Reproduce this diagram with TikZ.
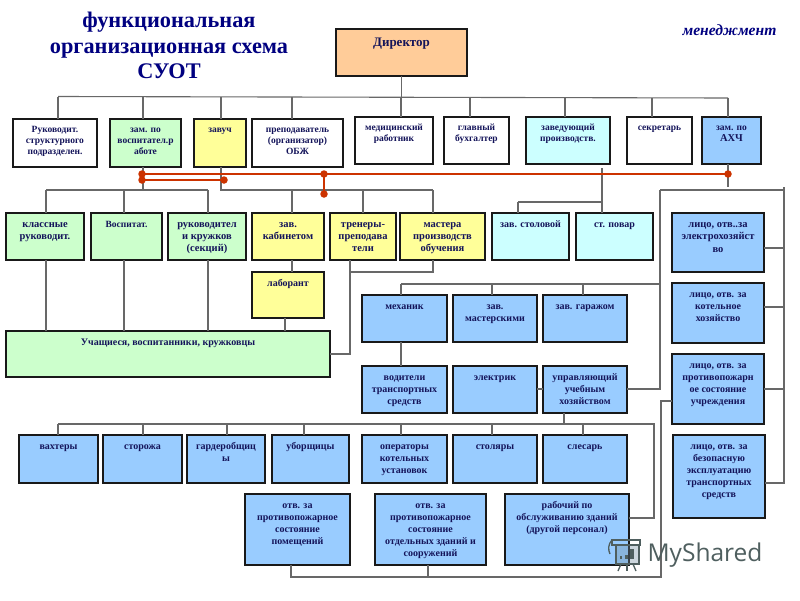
\documentclass[tikz,border=0pt]{standalone}
\usepackage{fontspec}
\setmainfont{Liberation Serif}
\newfontfamily\wmfont{Open Sans}
\definecolor{navyt}{HTML}{000080}
\definecolor{boxt}{HTML}{14145A}
\definecolor{peach}{HTML}{FFCC99}
\definecolor{mint}{HTML}{CCFFCC}
\definecolor{lemon}{HTML}{FFFF99}
\definecolor{aqua}{HTML}{CCFFFF}
\definecolor{sky}{HTML}{99CCFF}
\definecolor{rust}{HTML}{CC3300}
\definecolor{wire}{HTML}{686868}
\definecolor{wm}{HTML}{4F5F5F}
\tikzset{
  boxst/.style={draw=black!90,line width=1.5pt,inner sep=0pt,outer sep=0pt,anchor=center,align=center},
  link/.style={draw=wire,line width=1.1pt},
  redline/.style={draw=rust,line width=2.4pt},
  reddot/.style={circle,fill=rust,minimum size=7.5pt,inner sep=0pt},
  titlest/.style={font=\bfseries\fontsize{22.3}{25.8}\selectfont,text=navyt,align=center},
  logost/.style={draw=wm,line width=1.3pt},
}
\newcommand{\bxtop}{13.5}
\newcommand{\bxfac}{1.17}
% #1 name, #2 x1, #3 y1, #4 x2, #5 y2, #6 fill, #7 font size, #8 text
\newcommand{\bx}[8]{%
  \pgfmathsetmacro{\bxw}{#4-#2}\pgfmathsetmacro{\bxh}{#5-#3}%
  \pgfmathsetmacro{\bxcx}{(#2+#4)/2}\pgfmathsetmacro{\bxcy}{(#3+#5)/2}%
  \pgfmathsetmacro{\bxlead}{#7*\bxfac}%
  \node[boxst,fill=#6] (#1) at (\bxcx,\bxcy)
    {\parbox[c][\bxh pt][t]{\bxw pt}{\centering\color{boxt}\bfseries\fontsize{#7}{\bxlead}\selectfont\rule{0pt}{\bxtop pt}#8\par}};%
}
% bus coordinate, then a drop onto the top of a node
\newcommand{\dropon}[4]{\coordinate (#1) at (#2,#3); \draw[link] (#1) -- (#1 |- #4.north);}
\begin{document}
\begin{tikzpicture}[x=1pt,y=-1pt]
\useasboundingbox (0,0) rectangle (800,600);
\fill[white] (0,0) rectangle (800,600);

\node[titlest] (title) at (169,45.5) {функциональная\\организационная схема\\СУОТ};
\node[font=\bfseries\itshape\fontsize{15.6}{18}\selectfont,text=navyt] (mgmt) at (729.5,30.5) {менеджмент};

% row 1
\renewcommand{\bxtop}{17}
\bx{dir}{336}{29}{467}{76}{peach}{13}{Директор}
\renewcommand{\bxtop}{13.5}
\bx{ruk}{13}{119}{97}{167}{white}{9.5}{Руководит.\\структурного\\подразделен.}
\bx{zvr}{110}{119}{181}{167}{mint}{9.5}{зам. по\\воспитател.р\\аботе}
\bx{zav}{194}{119}{246}{167}{lemon}{9.5}{завуч}
\bx{pre}{252}{119}{343}{167}{white}{9.5}{преподаватель\\(организатор)\\ОБЖ}
\bx{med}{355}{117}{433}{164}{white}{9.5}{медицинский\\работник}
\bx{glb}{444}{117}{509}{164}{white}{9.5}{главный\\бухгалтер}
\bx{zpr}{526}{117}{610}{164}{aqua}{9.5}{заведующий\\производств.}
\bx{sek}{627}{117}{692}{164}{white}{9.5}{секретарь}
\bx{axc}{702}{117}{761}{164}{sky}{9.5}{зам. по\\{\fontsize{10.5}{12}\selectfont АХЧ}}

% row 2
\renewcommand{\bxtop}{14}
\bx{kla}{6}{213}{84}{260}{mint}{10.5}{классные\\руководит.}
\bx{vos}{91}{213}{162}{260}{mint}{9.5}{Воспитат.}
\bx{rkr}{168}{213}{246}{260}{mint}{10.5}{руководител\\и кружков\\(секций)}
\bx{kab}{252}{213}{324}{260}{lemon}{10.5}{зав.\\кабинетом}
\bx{tre}{330}{213}{396}{260}{lemon}{10.5}{тренеры-\\преподава\\тели}
\bx{mas}{400}{213}{485}{260}{lemon}{10.5}{мастера\\производств\\обучения}
\bx{sto}{492}{213}{569}{260}{aqua}{10}{зав. столовой}
\bx{pov}{576}{213}{653}{260}{aqua}{10}{ст. повар}
\bx{lab}{252}{272}{324}{318}{lemon}{10}{лаборант}
\bx{uch}{6}{331}{330}{377}{mint}{10}{Учащиеся, воспитанники, кружковцы}

% right column
\renewcommand{\bxfac}{1.2}
\bx{el}{672}{213}{764}{272}{sky}{10.5}{лицо, отв..за\\электрохозяйст\\во}
\bx{kot}{672}{283}{764}{343}{sky}{10}{лицо, отв. за\\котельное\\хозяйство}
\bx{pro}{672}{354}{764}{424}{sky}{10}{лицо, отв. за\\противопожарн\\ое состояние\\учреждения}
\bx{bez}{673}{435}{765}{518}{sky}{10}{лицо, отв. за\\безопасную\\эксплуатацию\\транспортных\\средств}

% workshop rows
\bx{mex}{362}{295}{447}{342}{sky}{10}{механик}
\bx{mst}{453}{295}{537}{342}{sky}{10}{зав.\\мастерскими}
\bx{gar}{543}{295}{627}{342}{sky}{10}{зав. гаражом}
\bx{vod}{362}{366}{447}{413}{sky}{10}{водители\\транспортных\\средств}
\bx{ele}{453}{366}{537}{413}{sky}{10}{электрик}
\bx{upr}{543}{366}{627}{413}{sky}{10}{управляющий\\учебным\\хозяйством}

% service row
\bx{vax}{19}{435}{98}{483}{sky}{10}{вахтеры}
\bx{sth}{103}{435}{182}{483}{sky}{10}{сторожа}
\bx{gdr}{187}{435}{265}{483}{sky}{10}{гардеробщиц\\ы}
\bx{ubo}{272}{435}{349}{483}{sky}{10}{уборщицы}
\bx{ope}{362}{435}{447}{483}{sky}{10}{операторы\\котельных\\установок}
\bx{sty}{453}{435}{537}{483}{sky}{10}{столяры}
\bx{sle}{543}{435}{627}{483}{sky}{10}{слесарь}

% bottom row
\bx{ot1}{245}{494}{350}{565}{sky}{10}{отв. за\\противопожарное\\состояние\\помещений}
\bx{ot2}{375}{494}{486}{565}{sky}{10}{отв. за\\противопожарное\\состояние\\отдельных зданий и\\сооружений}
\bx{rab}{505}{494}{629}{565}{sky}{10}{рабочий по\\обслуживанию зданий\\(другой персонал)}

% director's bus
\coordinate (ds) at (401,96.5);
\draw[link] (dir.south) -- (dir.south |- ds);
\draw[link] (58,96.5) -- (728,98);
\dropon{a1}{58}{96.5}{ruk}
\dropon{a2}{143}{97}{zvr}
\dropon{a3}{221}{97}{zav}
\dropon{a4}{292}{97}{pre}
\dropon{a5}{401}{97}{med}
\dropon{a6}{470}{97.5}{glb}
\dropon{a7}{565}{97.5}{zpr}
\dropon{a8}{652}{98}{sek}
\dropon{a9}{728}{98}{axc}

% deputies' buses
\coordinate (b0) at (143,190);
\draw[link] (a2 |- zvr.south) -- (b0);
\coordinate (b1) at (46,190);
\coordinate (b3) at (208,190);
\draw[link] (b1) -- (b3);
\dropon{b1}{46}{190}{kla}
\dropon{b2}{124}{190}{vos}
\dropon{b3}{208}{190}{rkr}
\coordinate (c0) at (221,190);
\coordinate (c3) at (433,190);
\draw[link] (a3 |- zav.south) -- (c0) -- (c3);
\dropon{c1}{292}{190}{kab}
\dropon{c2}{363}{190}{tre}
\dropon{c3}{433}{190}{mas}

% to pupils
\draw[link] (b1 |- kla.south) -- (b1 |- uch.north);
\draw[link] (b2 |- vos.south) -- (b2 |- uch.north);
\draw[link] (b3 |- rkr.south) -- (b3 |- uch.north);
\draw[link] (c1 |- kab.south) -- (c1 |- lab.north);
\coordinate (l1) at (285,318);
\draw[link] (l1 |- lab.south) -- (l1 |- uch.north);
\coordinate (t1) at (350,272);
\coordinate (t2) at (350,354);
\draw[link] (t1 |- tre.south) -- (t2) -- (uch.east |- t2);
\draw[link] (c3 |- mas.south) -- (c3 |- t1) -- (t1);

% production
\coordinate (p1) at (602,168);
\coordinate (p2) at (602,202);
\draw[draw=wire,line width=1.3pt] (p1) -- (p2);
\coordinate (p3) at (518,202);
\draw[link] (p3) -- (p2);
\draw[link] (p3) -- (p3 |- sto.north);
\draw[link] (p2) -- (p2 |- pov.north);

% ACh
\coordinate (a9b) at (728,187);
\draw[link] (a9 |- axc.south) -- (a9b);
\coordinate (r1) at (660,190);
\coordinate (r2) at (784,187);
\coordinate (r4) at (784,190);
\coordinate (r5) at (784,483);
\draw[link] (r1) -- (r4);
\draw[link] (r2) -- (r5) -- (bez.east |- r5);
\coordinate (e1) at (784,248);
\coordinate (e2) at (784,307);
\coordinate (e3) at (784,389);
\draw[link] (e1) -- (el.east |- e1);
\draw[link] (e2) -- (kot.east |- e2);
\draw[link] (e3) -- (pro.east |- e3);
\coordinate (r3) at (660,389);
\draw[link] (r1) -- (r3) -- (upr.east |- r3);
\coordinate (d0) at (401,284);
\coordinate (d9) at (660,284);
\draw[link] (d0) -- (d9);
\dropon{d1}{401}{284}{mex}
\dropon{d2}{492}{284}{mst}
\dropon{d3}{583}{284}{gar}
\draw[link] (d1 |- mex.south) -- (d1 |- vod.north);
\draw[link] (ele.east |- r3) -- (upr.west |- r3);

% manager's bus
\coordinate (u1) at (564,424);
\draw[link] (u1 |- upr.south) -- (u1);
\coordinate (u0) at (58,424);
\coordinate (u2) at (654,424);
\coordinate (u3) at (654,518);
\draw[link] (u0) -- (u2) -- (u3) -- (rab.east |- u3);
\dropon{g1}{58}{424}{vax}
\dropon{g2}{143}{424}{sth}
\dropon{g3}{227}{424}{gdr}
\dropon{g4}{304}{424}{ubo}
\dropon{g5}{401}{424}{ope}
\dropon{g6}{492}{424}{sty}
\dropon{g7}{583}{424}{sle}

% fire-safety loop
\coordinate (f1) at (661,401);
\coordinate (f2) at (661,577);
\coordinate (f3) at (291,577);
\coordinate (f4) at (428,577);
\draw[link] (pro.west |- f1) -- (f1) -- (f2) -- (f3) -- (f3 |- ot1.south);
\draw[link] (f4) -- (f4 |- ot2.south);

% red links
\coordinate (h1) at (142,174);
\coordinate (h2) at (142,180);
\coordinate (h3) at (224,180);
\coordinate (h4) at (324,174);
\coordinate (h5) at (324,194);
\coordinate (h6) at (728,174);
\draw[redline] (h1) -- (h6);
\draw[redline] (h1) -- (h2) -- (h3);
\draw[redline] (h4) -- (h5);
\foreach \p in {h1,h2,h3,h4,h5,h6} \node[reddot] at (\p) {};

% watermark
\draw[logost,fill=sky!40!wm,fill opacity=.35] (616,545) rectangle (639,564);
\draw[logost] (612,540) -- (640,540) -- (640,545) -- (612,545) -- cycle;
\draw[logost] (612,540) .. controls (608,544) and (608,550) .. (610,554);
\draw[logost] (621,564) -- (618,571);
\draw[logost] (627,564) -- (627,571);
\draw[logost] (633,564) -- (636,571);
\fill[wm] (620,556) rectangle (622,559);
\fill[wm] (625,555) rectangle (628,559);
\fill[wm] (630,549) rectangle (634,559);
\node[font=\wmfont\fontsize{24.5}{28}\selectfont,text=wm] (wmark) at (705,555) {MyShared};
\end{tikzpicture}
\end{document}
